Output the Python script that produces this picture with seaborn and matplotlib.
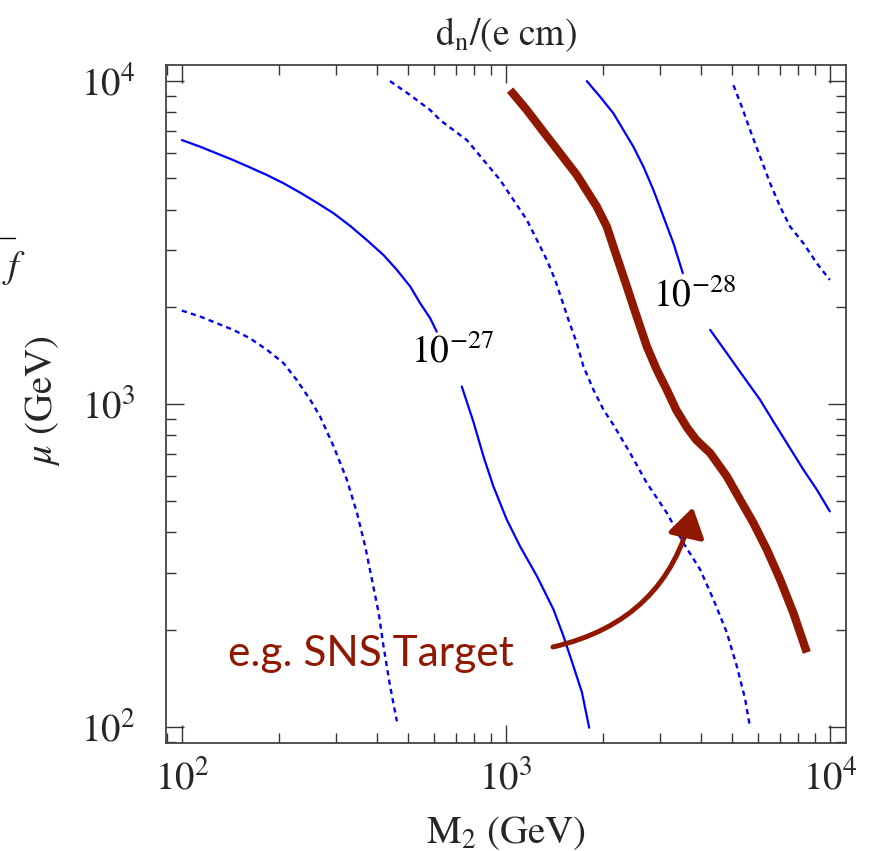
import numpy as np
import pandas as pd
import matplotlib
matplotlib.use("Agg")
import matplotlib.pyplot as plt
import seaborn as sns
from matplotlib.patches import FancyArrowPatch
from matplotlib.lines import Line2D
from matplotlib.ticker import LogLocator, NullFormatter

# ---------------- data ----------------
# 10^-27 contour (solid blue), split by the inline label
m2_c27a = [100, 114, 128, 144, 162, 183, 206, 232, 261, 294, 331, 372, 419, 461, 507, 544, 584, 612]
mu_c27a = [6569, 6262, 5974, 5696, 5408, 5120, 4826, 4512, 4202, 3896, 3559, 3221, 2894, 2602, 2310, 2051, 1843, 1675]
m2_c27b = [731, 794, 853, 915, 1007, 1107, 1247, 1403, 1506, 1617, 1717, 1808]
mu_c27b = [1133, 881, 688, 556, 438, 362, 293, 231, 191, 154, 128, 99.4]

# dashed contour, lower left
m2_dlow = [100, 114, 128, 144, 162, 183, 206, 226, 249, 267, 294, 323, 347, 368, 386, 405, 419, 439, 461]
mu_dlow = [1947, 1865, 1780, 1697, 1599, 1472, 1338, 1188, 1030, 915, 739, 583, 460, 362, 286, 225, 178, 134, 104]

# dashed contour, middle
m2_dmid = [439, 507, 584, 627, 689, 758, 853, 960, 1056, 1161, 1247, 1338, 1420, 1489, 1561, 1656,
           1736, 1864, 2001, 2148, 2418, 2724, 3140, 3533, 3979, 4373, 4809, 5164, 5478, 5675]
mu_dmid = [10000, 9050, 8135, 7573, 7053, 6569, 5696, 4940, 4283, 3715, 3221, 2794, 2423, 2101, 1822, 1543,
           1306, 1107, 960, 862, 705, 569, 460, 371, 307, 248, 196, 154, 122, 99.4]

# SNS target (thick red)
m2_sns = [1031, 1161, 1306, 1471, 1656, 1909, 2050, 2148, 2253, 2363, 2476, 2597, 2724, 2924,
          3140, 3355, 3628, 3867, 4272, 4809, 5286, 5811, 6392, 7025, 7723, 8492]
mu_sns = [9380, 8135, 6970, 5975, 5120, 4085, 3541, 3072, 2664, 2310, 2003, 1737, 1507, 1276,
          1107, 960, 844, 775, 705, 597, 505, 428, 354, 286, 225, 170]

# 10^-28 contour (solid blue), split by the inline label
m2_c28a = [1778, 1955, 2148, 2307, 2476, 2659, 2855, 3065, 3291, 3518]
mu_c28a = [10000, 8942, 7946, 7053, 6262, 5431, 4600, 3803, 3147, 2541]
m2_c28b = [4272, 4809, 5412, 6094, 6731, 7367, 8289, 9118, 10000]
mu_c28b = [1697, 1437, 1216, 1030, 875, 757, 626, 543, 465]

# dashed contour, upper right
m2_dhi = [5040, 5350, 5675, 6094, 6543, 7025, 7543, 8289, 9118, 10000]
mu_dhi = [9719, 8329, 7053, 5833, 4826, 4085, 3541, 3147, 2729, 2423]

contour_labels = [r"$10^{-27}$", r"$10^{-28}$"]
label_pos_m2 = [682, 3820]
label_pos_mu = [1450, 2150]

target_text = "e.g. SNS Target"
arrow_start = (1371, 176)
arrow_end = (3795, 488)

# ---------------- build long-form table ----------------
segments = [
    ("c27a", m2_c27a, mu_c27a, "solid"),
    ("c27b", m2_c27b, mu_c27b, "solid"),
    ("dlow", m2_dlow, mu_dlow, "dashed"),
    ("dmid", m2_dmid, mu_dmid, "dashed"),
    ("c28a", m2_c28a, mu_c28a, "solid"),
    ("c28b", m2_c28b, mu_c28b, "solid"),
    ("dhi", m2_dhi, mu_dhi, "dashed"),
    ("sns", m2_sns, mu_sns, "target"),
]
frames = []
for name, xs, ys, kind in segments:
    frames.append(pd.DataFrame({"M2": xs, "mu": ys, "seg": name, "kind": kind}))
df = pd.concat(frames, ignore_index=True)

# ---------------- style ----------------
sns.set_style("ticks")
plt.rcParams["font.family"] = ["STIXGeneral", "DejaVu Serif"]
plt.rcParams["mathtext.fontset"] = "stix"

BLUE = "#0000FF"
RED = "#901800"

fig = plt.figure(figsize=(8.8, 8.51), dpi=100)
ax = fig.add_axes([165.7 / 880, 1 - 743 / 851, (846 - 165.7) / 880, (743 - 65) / 851])
ax.set_xscale("log")
ax.set_yscale("log")

for name, xs, ys, kind in segments:
    sub = df[df["seg"] == name]
    if kind == "solid":
        sns.lineplot(data=sub, x="M2", y="mu", sort=False, estimator=None,
                     color=BLUE, lw=1.6, ax=ax)
    elif kind == "dashed":
        sns.lineplot(data=sub, x="M2", y="mu", sort=False, estimator=None,
                     color=BLUE, lw=1.7, linestyle=(0, (2.2, 1.8)), ax=ax)
    else:
        sns.lineplot(data=sub, x="M2", y="mu", sort=False, estimator=None,
                     color=RED, lw=6.0, solid_capstyle="butt", solid_joinstyle="round",
                     ax=ax, zorder=3)

for lab, xx, yy in zip(contour_labels, label_pos_m2, label_pos_mu):
    ax.text(xx, yy, lab, ha="center", va="center", fontsize=27, color="black")

ax.text(139, 154, target_text, ha="left", va="baseline", fontsize=30.5,
        color=RED, family=["Lato", "DejaVu Sans"])

arrow = FancyArrowPatch(arrow_start, arrow_end, connectionstyle="arc3,rad=0.32",
                        arrowstyle="-|>,head_length=11,head_width=7",
                        color=RED, lw=3.6, mutation_scale=1.6, zorder=4)
ax.add_patch(arrow)

lo, hi = 10 ** 1.95, 10 ** 4.05
ax.set_xlim(lo, hi)
ax.set_ylim(lo, hi)

for axis in (ax.xaxis, ax.yaxis):
    axis.set_major_locator(LogLocator(base=10, numticks=10))
    axis.set_minor_locator(LogLocator(base=10, subs=np.arange(2, 10), numticks=20))
    axis.set_minor_formatter(NullFormatter())

ax.tick_params(which="both", direction="in", top=True, right=True,
               color="#333333", width=1.0)
ax.tick_params(which="major", length=13, labelsize=28)
ax.tick_params(which="minor", length=7)
ax.tick_params(axis="x", which="major", pad=12)
ax.tick_params(axis="y", which="major", pad=22)
for sp in ax.spines.values():
    sp.set_color("#444444")
    sp.set_linewidth(1.3)

ax.set_xlabel(r"$\mathrm{M_2}$ (GeV)", fontsize=28)
ax.xaxis.set_label_coords(0.5, -0.105)
ax.set_ylabel(r"$\mu$ (GeV)", fontsize=28)
ax.yaxis.set_label_coords(-0.152, 0.505)
ax.set_title(r"$\mathrm{d_n}$/(e cm)", fontsize=27, pad=14)

# partial label fragment at the left edge
fig.text(2 / 880, 1 - 268 / 851, r"$f$", fontsize=28, ha="left", va="center")
fig.add_artist(Line2D([0, 15 / 880], [1 - 238 / 851, 1 - 238 / 851],
                      transform=fig.transFigure, color="black", lw=1.0))

fig.savefig("out.png", dpi=100)
